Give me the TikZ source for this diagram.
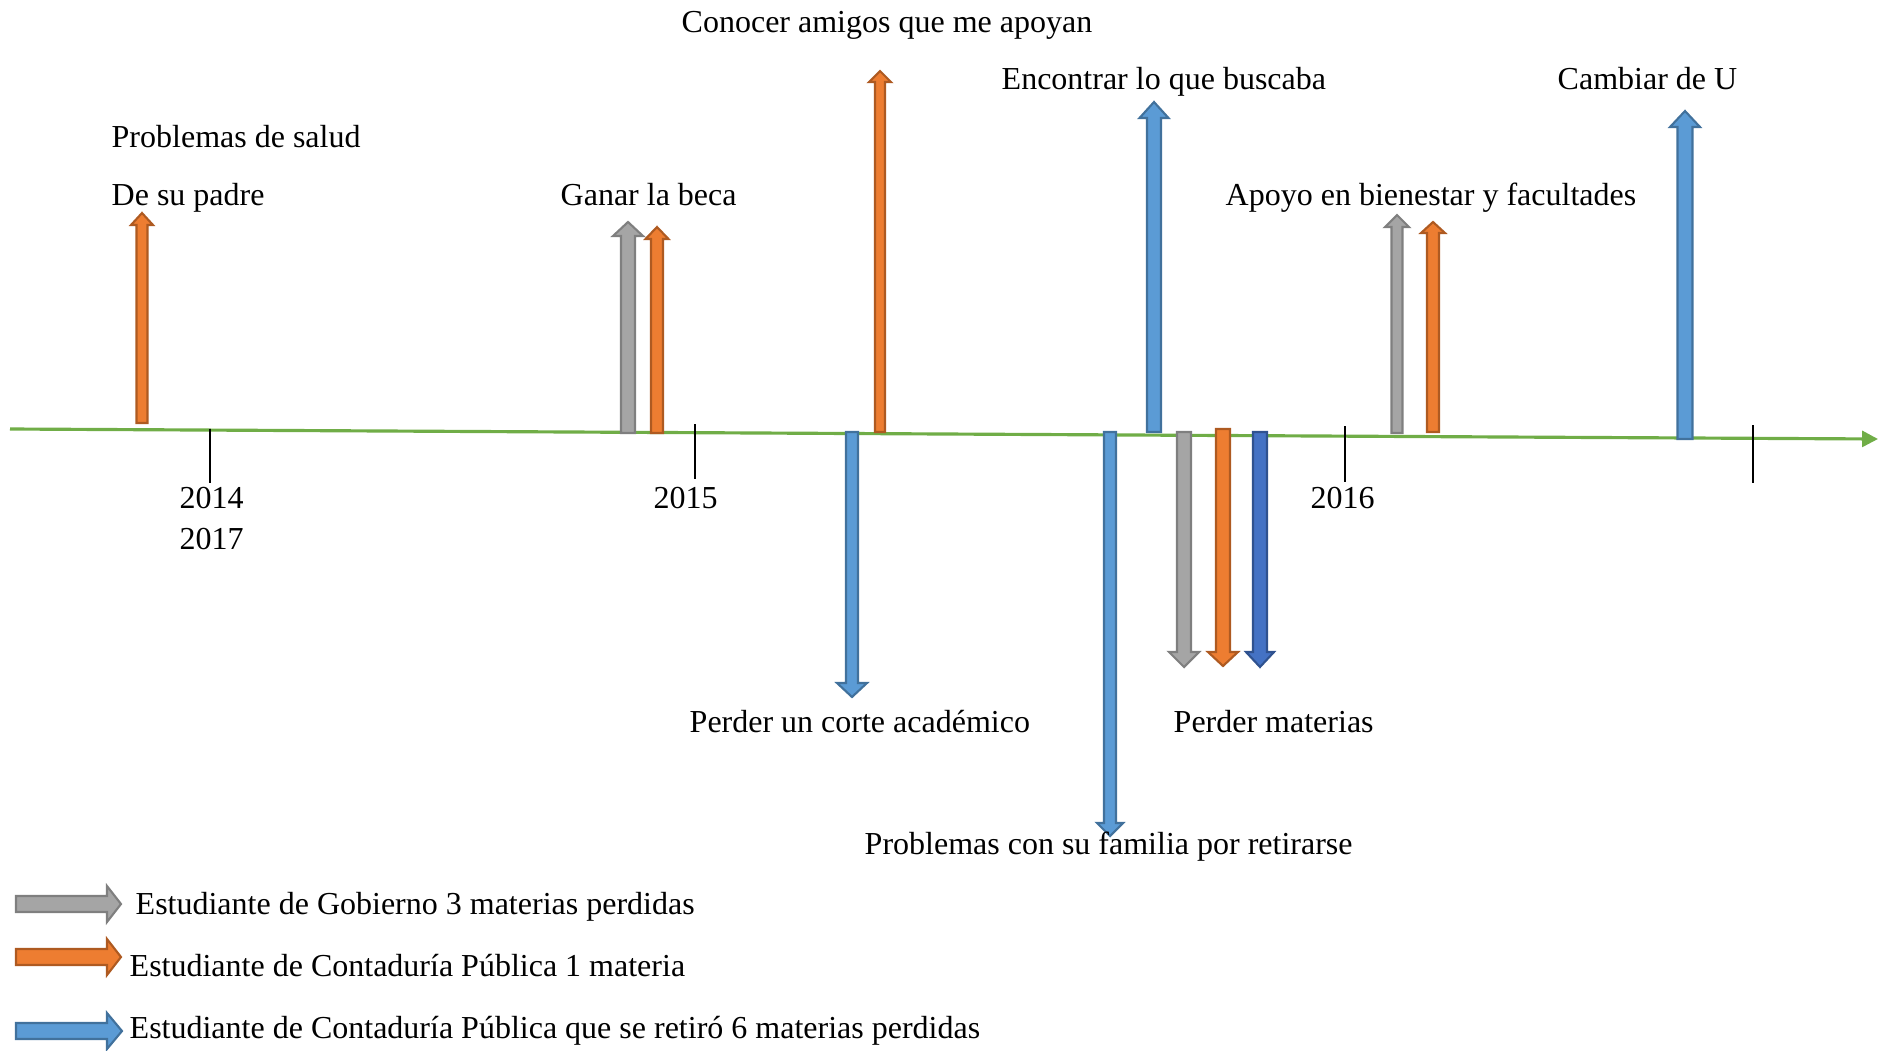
\documentclass[tikz,border=0pt]{standalone}
\usepackage{fontspec}
\setmainfont{Liberation Serif}
\usepackage{xcolor}
\usepackage{tikz}
\usetikzlibrary{arrows.meta}
\usetikzlibrary{positioning}

\definecolor{grisA}{HTML}{A5A5A5}
\definecolor{grisB}{HTML}{7F7F7F}
\definecolor{naranjaA}{HTML}{ED7D31}
\definecolor{naranjaB}{HTML}{AE5A21}
\definecolor{azulA}{HTML}{5B9BD5}
\definecolor{azulB}{HTML}{41719C}
\definecolor{azulC}{HTML}{4472C4}
\definecolor{azulD}{HTML}{2F528F}
\definecolor{verde}{HTML}{70AD47}

% flecha vertical: estilo, x, base, base punta, punta, ancho, ancho punta
\newcommand{\flechaV}[7]{%
  \filldraw[#1] (#2-#6/2,#3) -- (#2-#6/2,#4) -- (#2-#7/2,#4) -- (#2,#5)
    -- (#2+#7/2,#4) -- (#2+#6/2,#4) -- (#2+#6/2,#3) -- cycle;}
% flecha horizontal: estilo, y, inicio, base punta, punta, ancho, ancho punta
\newcommand{\flechaH}[7]{%
  \filldraw[#1] (#3,#2-#6/2) -- (#4,#2-#6/2) -- (#4,#2-#7/2) -- (#5,#2)
    -- (#4,#2+#7/2) -- (#4,#2+#6/2) -- (#3,#2+#6/2) -- cycle;}

\begin{document}
\begin{tikzpicture}[
  x=0.01cm, y=-0.01cm,
  every node/.style={font=\fontsize{9.1pt}{11pt}\selectfont, inner sep=0pt},
  gobierno/.style={fill=grisA, draw=grisB, line width=0.6pt},
  contaduria/.style={fill=naranjaA, draw=naranjaB, line width=0.6pt},
  retiro/.style={fill=azulA, draw=azulB, line width=0.6pt},
  retiroB/.style={fill=azulC, draw=azulD, line width=0.6pt},
  eje/.style={draw=verde, line width=0.9pt, -{Triangle[length=4.5pt, width=4.5pt]}},
  marca/.style={line width=0.7pt},
]
\useasboundingbox (0,0) rectangle (1893,1051);

  % Eje
  \coordinate (izq) at (10,429);
  \coordinate (der) at (1878,439);
  \draw[eje] (izq) -- (der);
  \foreach \x/\a/\b in {210/429/483, 695/424/479, 1345/426/482, 1753/425/483}
    \draw[marca] (\x,\a) -- (\x,\b);

  % Flechas
  \flechaV{contaduria}{142}{423}{225}{213}{11}{22}
  \flechaV{gobierno}{628}{433}{236}{222}{14}{30}
  \flechaV{contaduria}{657}{433}{239}{227}{12}{23}
  \flechaV{contaduria}{880}{432}{82}{71}{10}{22}
  \flechaV{retiro}{852}{432}{683}{697}{12}{30}
  \flechaV{retiro}{1154}{432}{118}{102}{14}{29}
  \flechaV{retiro}{1110}{432}{823}{836}{12}{26}
  \flechaV{gobierno}{1184}{432}{652}{667}{14}{30}
  \flechaV{contaduria}{1223}{429}{652}{666}{14}{30}
  \flechaV{retiroB}{1260}{432}{652}{667}{14}{28}
  \flechaV{gobierno}{1397}{433}{227}{215}{11}{24}
  \flechaV{contaduria}{1433}{432}{233}{222}{12}{24}
  \flechaV{retiro}{1685}{439}{127}{111}{15}{30}

  % Textos
  \node[anchor=base west] (conocer) at (681,32) {Conocer amigos que me apoyan};
  \node[anchor=base west] (encontrar) at (1001,89) {Encontrar lo que buscaba};
  \node[anchor=base west] (cambiar) at (1557,89) {Cambiar de U};
  \node[anchor=base west] (salud) at (111,147) {Problemas de salud};
  \node[anchor=base west] (padre) at (111,205) {De su padre};
  \node[anchor=base west] (beca) at (560,205) {Ganar la beca};
  \node[anchor=base west] (apoyo) at (1225,205) {Apoyo en bienestar y facultades};
  \node[anchor=base west] (a2014) at (179,508) {2014};
  \node[anchor=base west] (a2017) at (179,549) {2017};
  \node[anchor=base west] (a2015) at (653,508) {2015};
  \node[anchor=base west] (a2016) at (1310,508) {2016};
  \node[anchor=base west] (corte) at (689,732) {Perder un corte académico};
  \node[anchor=base west] (materias) at (1173,732) {Perder materias};
  \node[anchor=base west] (familia) at (864,854) {Problemas con su familia por retirarse};

  % Leyenda
  \flechaH{gobierno}{904}{16}{107}{121}{16}{36}
  \flechaH{contaduria}{957}{16}{107}{121}{16}{36}
  \flechaH{retiro}{1031}{16}{107}{122}{16}{36}
  \node[anchor=base west] (leyGob) at (135,914) {Estudiante de Gobierno 3 materias perdidas};
  \node[anchor=base west] (leyCon) at (129,976) {Estudiante de Contaduría Pública 1 materia};
  \node[anchor=base west] (leyRet) at (129,1038) {Estudiante de Contaduría Pública que se retiró 6 materias perdidas};
\end{tikzpicture}
\end{document}
